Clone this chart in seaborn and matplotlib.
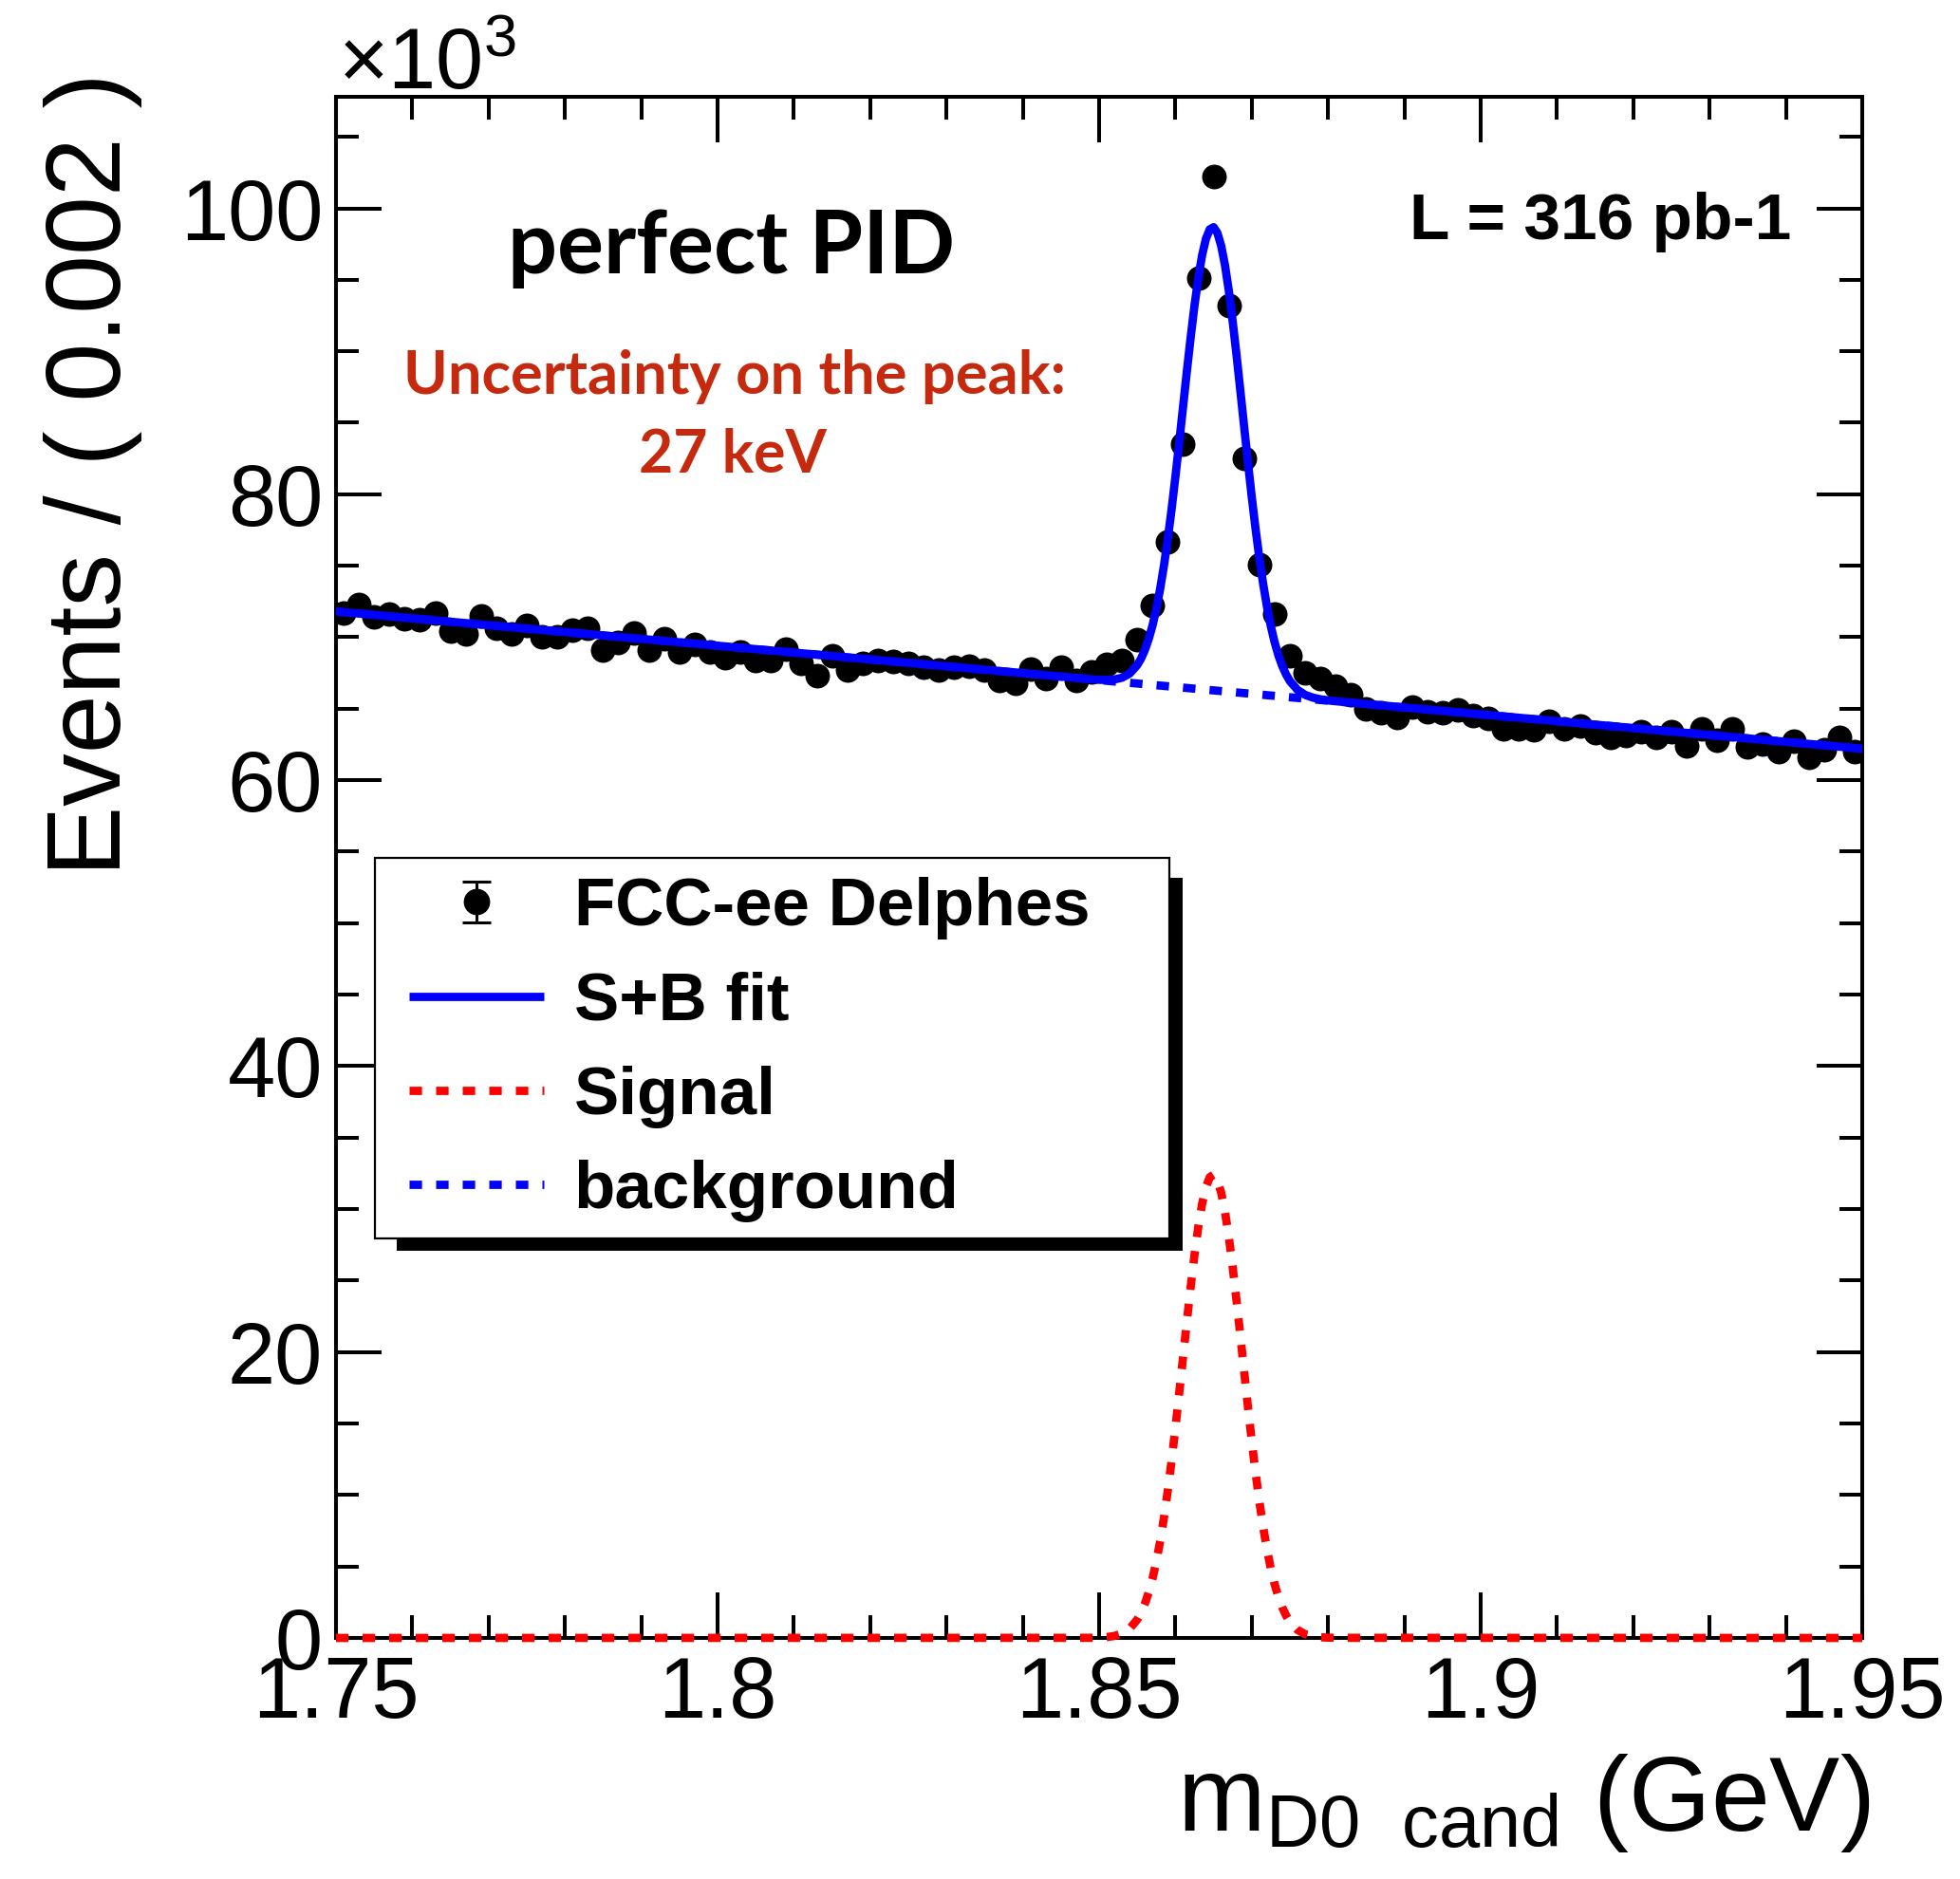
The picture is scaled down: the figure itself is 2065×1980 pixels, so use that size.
import numpy as np
import matplotlib
matplotlib.use("Agg")
import matplotlib.pyplot as plt
import seaborn as sns
from matplotlib.ticker import MultipleLocator, FormatStrFormatter
from matplotlib.lines import Line2D
from matplotlib.patches import Rectangle
from matplotlib.container import ErrorbarContainer
from matplotlib.legend_handler import HandlerErrorbar
from matplotlib.font_manager import FontProperties

# ---------------- data (values in units of 10^3 events / 0.002 GeV) ----------------
bin_centers = np.round(np.arange(1.751, 1.9495, 0.002), 3)   # 100 bins, width 0.002 GeV
counts = [
    71.7, 72.3, 71.4, 71.6, 71.3, 71.2, 71.7, 70.4, 70.2, 71.5,
    70.6, 70.2, 70.8, 70.0, 70.0, 70.5, 70.6, 69.1, 69.6, 70.3,
    69.1, 69.9, 69.0, 69.5, 69.0, 68.6, 69.0, 68.4, 68.4, 69.2,
    68.2, 67.3, 68.7, 67.7, 68.2, 68.4, 68.3, 68.2, 67.9, 67.7,
    67.9, 68.0, 67.7, 67.0, 66.8, 67.8, 67.1, 67.9, 67.0, 67.6,
    68.1, 68.4, 69.8, 72.2, 76.7, 83.5, 95.1, 102.2, 93.2, 82.5,
    75.1, 71.6, 68.7, 67.5, 67.1, 66.6, 66.0, 65.0, 64.7, 64.4,
    65.1, 64.8, 64.7, 64.9, 64.5, 64.3, 63.6, 63.6, 63.5, 64.1,
    63.6, 63.8, 63.3, 63.0, 63.1, 63.4, 63.0, 63.4, 62.4, 63.6,
    62.8, 63.6, 62.3, 62.5, 62.0, 62.7, 61.6, 62.1, 63.0, 62.0,
]
counts = np.array(counts)
count_err = np.sqrt(counts * 1000.0) / 1000.0   # Poisson uncertainty

# background (linear) fit component, read at the range ends
bkg_x = [1.75, 1.95]
bkg_y = [71.8, 62.2]

# signal fit component
sig_x = [1.7500,
         1.8490, 1.8500, 1.8510, 1.8520, 1.8530, 1.8540, 1.8550, 1.8555,
         1.8560, 1.8565, 1.8570, 1.8575, 1.8580, 1.8585, 1.8590, 1.8595,
         1.8600, 1.8605, 1.8610, 1.8615, 1.8620, 1.8625, 1.8630, 1.8635,
         1.8640, 1.8645, 1.8650, 1.8655, 1.8660, 1.8665, 1.8670, 1.8675,
         1.8680, 1.8685, 1.8690, 1.8695, 1.8700, 1.8705, 1.8710, 1.8715,
         1.8720, 1.8725, 1.8730, 1.8735, 1.8740, 1.8745, 1.8750, 1.8760,
         1.8770, 1.8780, 1.8790, 1.8800, 1.8810,
         1.9500]
sig_y = [0.0,
         0.01, 0.02, 0.06, 0.14, 0.31, 0.65, 1.29, 1.77,
         2.40, 3.19, 4.16, 5.36, 6.77, 8.43, 10.32, 12.42,
         14.72, 17.15, 19.65, 22.16, 24.57, 26.81, 28.77, 30.38,
         31.55, 32.23, 32.40, 32.02, 31.14, 29.79, 28.03, 25.94,
         23.63, 21.16, 18.65, 16.16, 13.78, 11.56, 9.54, 7.74,
         6.18, 4.85, 3.75, 2.85, 2.13, 1.57, 1.13, 0.56,
         0.26, 0.12, 0.05, 0.02, 0.01,
         0.0]
sig_x = np.array(sig_x)
sig_y = np.array(sig_y)
fit_y = np.interp(sig_x, bkg_x, bkg_y) + sig_y   # S + B

legend_labels = ["FCC-ee Delphes", "S+B fit", "Signal", "background"]
x_ticks = [1.75, 1.80, 1.85, 1.90, 1.95]
y_ticks = [0, 20, 40, 60, 80, 100]

# ---------------- style ----------------
sns.set_theme(style="ticks")
plt.rcParams["font.family"] = ["Liberation Sans", "DejaVu Sans"]
plt.rcParams["text.color"] = "black"
plt.rcParams["axes.labelcolor"] = "black"
plt.rcParams["xtick.color"] = "black"
plt.rcParams["ytick.color"] = "black"
plt.rcParams["mathtext.fontset"] = "custom"
plt.rcParams["mathtext.rm"] = "Liberation Sans"
plt.rcParams["mathtext.it"] = "Liberation Sans:italic"
plt.rcParams["mathtext.bf"] = "Liberation Sans:bold"

fig = plt.figure(figsize=(20.65, 19.80), dpi=100)
fig.patch.set_facecolor("white")
ax = fig.add_axes([354 / 2065, 1 - 1726 / 1980, 1608 / 2065, 1624 / 1980])

LW = 6.3
DOT = (0, (1.5, 1.7))

# data points
sns.scatterplot(x=bin_centers, y=counts, ax=ax, color="black", s=350,
                linewidth=0, zorder=2, legend=False)
ax.errorbar(bin_centers, counts, yerr=count_err, fmt="none", ecolor="black",
            elinewidth=2, zorder=2)

# background (dotted blue), fit (solid blue), signal (dotted red)
sns.lineplot(x=bkg_x, y=bkg_y, ax=ax, color="#0000FF", lw=LW, linestyle=DOT,
             zorder=3, errorbar=None, legend=False)
sns.lineplot(x=sig_x, y=fit_y, ax=ax, color="#0000FF", lw=LW, zorder=4,
             errorbar=None, legend=False)
sns.lineplot(x=sig_x, y=sig_y, ax=ax, color="#FF0000", lw=LW, linestyle=DOT,
             zorder=3, errorbar=None, legend=False)
for ln in ax.lines:
    ln.set_dash_capstyle("butt")
    ln.set_solid_capstyle("round")
    ln.set_solid_joinstyle("round")
ax.lines[-1].set_clip_on(False)

# axes
ax.set_xlim(1.75, 1.95)
ax.set_ylim(0, 107.8)
ax.xaxis.set_major_locator(MultipleLocator(0.05))
ax.xaxis.set_minor_locator(MultipleLocator(0.01))
ax.yaxis.set_major_locator(MultipleLocator(20))
ax.yaxis.set_minor_locator(MultipleLocator(5))
ax.set_xticks(x_ticks)
ax.set_yticks(y_ticks)
ax.xaxis.set_major_formatter(FormatStrFormatter("%g"))
ax.yaxis.set_major_formatter(FormatStrFormatter("%g"))
ax.tick_params(which="both", direction="in", top=True, right=True,
               width=2.9, color="black", labelcolor="black")
ax.tick_params(which="major", length=34.5, labelsize=65)
ax.tick_params(which="minor", length=17.3)
ax.tick_params(axis="x", which="major", pad=13)
ax.tick_params(axis="y", which="major", pad=10)
for sp in ax.spines.values():
    sp.set_visible(True)
    sp.set_linewidth(2.9)
    sp.set_color("black")
ax.set_facecolor("none")
ax.grid(False)

ax.set_xlabel("m$_{\\mathregular{D0\\ \\ cand}}$ (GeV)", fontsize=80, loc="right")
ax.xaxis.set_label_coords(1.005, -0.074)
ax.set_ylabel("Events / ( 0.002 )", fontsize=80, loc="top")
ax.yaxis.set_label_coords(-0.127, 1.016)

# annotations
ax.text(0.0012, 1.0050, "\u00d710$^{\\mathregular{3}}$", transform=ax.transAxes,
        fontsize=65, ha="left", va="baseline")
ax.text(0.2593, 0.8855, "perfect PID", transform=ax.transAxes, fontsize=66,
        family=["Lato", "DejaVu Sans"], fontweight="bold", ha="center", va="baseline")
ax.text(0.2612, 0.8073, "Uncertainty on the peak:", transform=ax.transAxes,
        fontsize=45.5, family=["Lato", "DejaVu Sans"], fontweight="bold",
        color="#C62A0E", ha="center", va="baseline")
ax.text(0.2600, 0.7562, "27 keV", transform=ax.transAxes, fontsize=45,
        family=["Lato", "DejaVu Sans"], fontweight="bold", color="#C62A0E",
        ha="center", va="baseline")
ax.text(0.9534, 0.9076, "L = 316 pb-1", transform=ax.transAxes, fontsize=50,
        fontweight="bold", color="black", ha="right", va="baseline")

# legend box (ROOT TLegend style: white box, thin black border, black drop shadow)
ax.add_patch(Rectangle((0.0398, 0.2512), 0.5149, 0.2420, transform=ax.transAxes,
                       facecolor="black", edgecolor="none", zorder=5.4, clip_on=False))
ax.add_patch(Rectangle((0.0255, 0.2592), 0.5205, 0.2469, transform=ax.transAxes,
                       facecolor="white", edgecolor="black", linewidth=1.6,
                       zorder=5.5, clip_on=False))

data_handle = ax.errorbar([np.nan], [np.nan], yerr=[1.0], fmt="o", color="black",
                          ms=19, elinewidth=2.2, capsize=11, capthick=2.2)
fit_handle = Line2D([], [], color="#0000FF", lw=LW, solid_capstyle="butt")
sig_handle = Line2D([], [], color="#FF0000", lw=LW, linestyle=DOT, dash_capstyle="butt")
bkg_handle = Line2D([], [], color="#0000FF", lw=LW, linestyle=DOT, dash_capstyle="butt")
leg = ax.legend([data_handle, fit_handle, sig_handle, bkg_handle], legend_labels,
                loc="upper left", bbox_to_anchor=(0.0479, 0.4938),
                borderaxespad=0, frameon=False,
                prop=FontProperties(family="Liberation Sans", weight="bold", size=51),
                handlelength=2.0, handletextpad=0.45, labelspacing=0.47,
                borderpad=0,
                handler_map={ErrorbarContainer: HandlerErrorbar(xerr_size=0.3)})
for t in leg.get_texts():
    t.set_color("black")
leg.set_zorder(6)

fig.savefig("out.png", dpi=100, facecolor="white")
